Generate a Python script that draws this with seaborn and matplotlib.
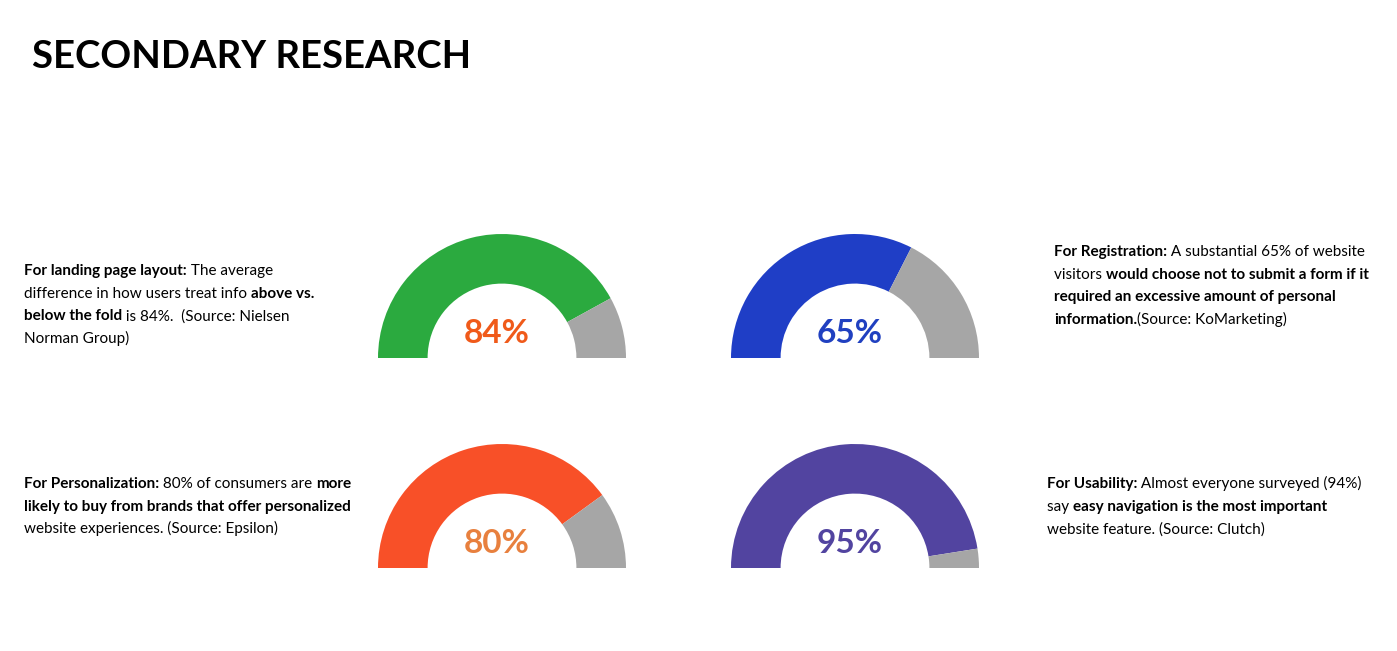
import matplotlib.pyplot as plt
import seaborn as sns

# gauge data
gauge_values = [84, 65, 80, 95]
gauge_colors = ["#2BAA3F", "#1F3EC6", "#F85028", "#5244A0"]
label_colors = ["#F05A1A", "#2040C0", "#E8803E", "#5244A0"]
gauge_centers = [(502, 358), (855, 358), (502, 568), (855, 568)]  # pixel position of each gauge
rest_color = "#A6A6A6"

# text blocks: (x, first baseline, lines of (text, bold) pieces)
block_1 = [
    [("For landing page layout:", True), (" The average", False)],
    [("difference in how users treat info ", False), ("above vs.", True)],
    [("below the fold", True), (" is 84%.  (Source: Nielsen", False)],
    [("Norman Group)", False)],
]
block_2 = [
    [("For Registration:", True), (" A substantial 65% of website", False)],
    [("visitors ", False), ("would choose not to submit a form if it", True)],
    [("required an excessive amount of personal", True)],
    [("information.", True), ("(Source: KoMarketing)", False)],
]
block_3 = [
    [("For Personalization:", True), (" 80% of consumers are ", False), ("more", True)],
    [("likely to buy from brands that offer personalized", True)],
    [("website experiences. (Source: Epsilon)", False)],
]
block_4 = [
    [("For Usability:", True), (" Almost everyone surveyed (94%)", False)],
    [("say ", False), ("easy navigation is the most important", True)],
    [("website feature. (Source: Clutch)", False)],
]
blocks = [(24, 275, block_1), (1054, 256, block_2), (24, 488, block_3), (1047, 488, block_4)]

sns.set_theme(style="white")
plt.rcParams["font.family"] = ["Lato", "DejaVu Sans"]

W, H = 1397, 651
fig = plt.figure(figsize=(W / 100, H / 100), dpi=100)
fig.patch.set_facecolor("white")

# background axes in pixel coordinates for text
bg = fig.add_axes([0, 0, 1, 1])
bg.set_xlim(0, W)
bg.set_ylim(H, 0)
bg.axis("off")

bg.text(32, 68, "SECONDARY RESEARCH", fontsize=27.5, fontweight="bold", color="black", va="baseline")

renderer = fig.canvas.get_renderer()
line_gap = 22.7
for x0, y0, lines in blocks:
    for i, line in enumerate(lines):
        x = x0
        y = y0 + i * line_gap
        for txt, bold in line:
            t = bg.text(x, y, txt, fontsize=11.0, fontweight="bold" if bold else "normal",
                        color="black", va="baseline", ha="left")
            x += t.get_window_extent(renderer).width

# gauges
R = 124
for val, col, lcol, (cx, cy) in zip(gauge_values, gauge_colors, label_colors, gauge_centers):
    ax = fig.add_axes([(cx - R) / W, (H - cy - R) / H, 2 * R / W, 2 * R / H])
    ax.pie([val, 100 - val, 100], colors=[col, rest_color, "none"], startangle=180,
           counterclock=False, radius=1, wedgeprops=dict(width=0.4, linewidth=0))
    ax.set_xlim(-1, 1)
    ax.set_ylim(-1, 1)
    ax.axis("off")
    ax.text(-0.04, 0.2, f"{val}%", fontsize=24, fontweight="bold", color=lcol,
            ha="center", va="center")

fig.savefig("out.png", dpi=100, facecolor="white")
